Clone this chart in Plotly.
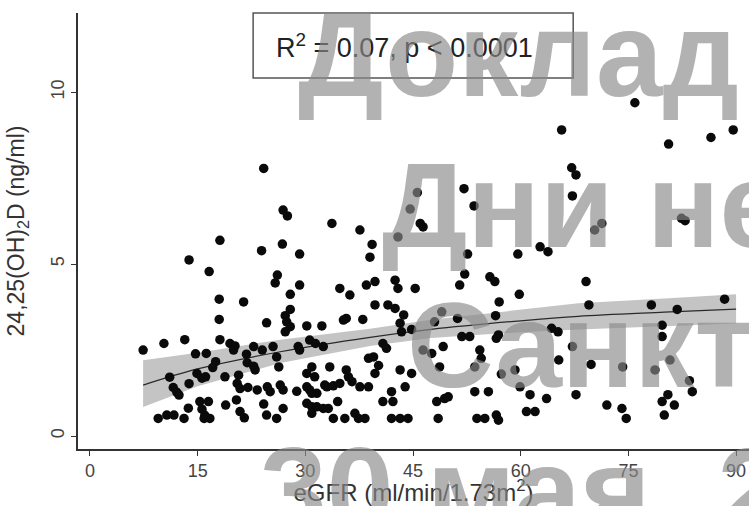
import plotly.graph_objects as go

# ---- data ----
egfr = [
    24.2, 26.9, 27.5, 33.7, 37.6, 18.1, 26.8, 23.9, 13.8, 29.2, 39.3, 39.0,
    45.6, 44.6, 46.0, 46.4, 42.9, 65.7, 67.1, 67.7, 67.2, 52.1, 53.5, 52.6,
    59.6, 62.7, 63.8, 75.9, 80.6, 86.5, 89.6, 71.3, 70.3, 82.4, 82.9, 16.6,
    26.1, 25.8, 29.2, 18.0, 21.4, 27.9, 27.9, 27.2, 27.4, 27.9, 27.2, 24.6,
    18.0, 30.2, 32.3, 34.8, 36.2, 38.5, 39.7, 39.7, 35.3, 35.7, 38.0, 38.8,
    39.5, 40.2, 39.7,
    7.4, 10.3, 13.2, 14.7, 16.2, 17.5, 17.1, 18.1, 19.5, 20.2, 20.0, 21.8,
    22.8, 24.0, 21.9, 22.8, 25.5, 26.0, 26.3, 23.0, 29.0, 29.2, 30.6, 31.4,
    32.5, 30.9, 33.4,
    11.1, 11.6, 12.1, 12.4, 13.8, 14.9, 15.6, 16.1, 18.8, 20.7, 20.5, 20.9,
    22.0, 23.3, 24.7, 25.1, 26.5, 26.9, 28.8, 30.2, 31.3, 30.2, 30.6, 30.9,
    31.6, 32.7, 33.0, 33.9, 34.8, 35.7, 36.0, 36.5, 37.6, 38.8,
    15.3, 16.5, 15.6, 16.0, 16.7, 13.7, 9.5, 10.7, 11.7, 13.1, 15.9, 18.9,
    20.4, 20.9, 21.5, 24.2, 24.6, 26.0, 26.9, 30.2, 30.9, 31.6, 32.5, 33.2,
    30.9, 34.5, 33.9, 35.5, 36.9, 37.4, 38.3,
    42.5, 42.9, 45.3, 41.5, 42.5, 43.7, 43.2, 43.4, 44.8, 40.8, 41.3, 43.2,
    44.8, 42.0, 43.9, 40.8, 42.2, 42.0, 43.2, 44.3, 46.4, 47.6, 49.0, 48.0,
    51.2,
    52.2, 51.5, 55.7, 56.4, 59.8, 57.0, 56.5, 51.8, 52.9, 56.6, 56.9, 64.3,
    65.2, 49.2, 54.3, 54.5, 67.2, 48.7, 53.6, 65.3, 59.2, 57.3, 59.9, 53.6,
    55.5, 61.3, 63.6, 67.7, 48.3, 49.4, 49.9, 48.5, 53.9, 55.0, 56.6, 56.9,
    60.8, 62.0,
    69.1, 69.5, 78.2, 81.8, 88.4, 79.7, 79.7, 69.8, 74.2, 78.7, 80.8, 83.5,
    83.9, 72.0, 74.1, 74.7, 80.5, 79.7, 81.4, 80.0,
]
vitd = [
    7.78, 6.57, 6.40, 6.18, 5.99, 5.69, 5.58, 5.39, 5.12, 5.29, 5.57, 5.20,
    7.08, 6.60, 6.18, 6.08, 5.79, 8.90, 7.80, 7.59, 6.98, 7.19, 6.69, 5.29,
    5.29, 5.50, 5.36, 9.69, 8.49, 8.68, 8.90, 6.18, 5.99, 6.33, 6.26, 4.78,
    4.68, 4.45, 4.39, 3.98, 3.90, 4.12, 3.68, 3.50, 3.32, 3.18, 3.03, 3.29,
    3.39, 3.20, 3.20, 4.29, 4.10, 4.39, 4.49, 3.81, 3.37, 3.42, 3.39, 2.26,
    2.30, 2.05, 1.82,
    2.50, 2.69, 2.80, 2.39, 2.40, 2.16, 1.99, 2.80, 2.69, 2.62, 2.50, 2.38,
    2.60, 2.50, 2.13, 2.03, 2.60, 2.30, 2.01, 1.92, 2.60, 2.50, 2.79, 2.69,
    2.60, 2.01, 2.01,
    1.71, 1.41, 1.27, 1.19, 1.52, 1.82, 1.68, 1.72, 1.72, 1.77, 1.53, 1.38,
    1.41, 1.34, 1.43, 1.29, 1.48, 1.34, 1.30, 1.82, 1.72, 1.43, 1.34, 1.24,
    1.24, 1.48, 1.43, 1.46, 1.53, 1.92, 1.72, 1.58, 1.43, 1.43,
    1.00, 1.00, 0.78, 0.60, 0.51, 0.81, 0.51, 0.61, 0.61, 0.51, 0.51, 0.90,
    1.05, 0.71, 0.53, 0.93, 0.61, 0.51, 0.80, 0.95, 0.85, 0.85, 0.80, 0.80,
    0.66, 1.00, 0.51, 0.51, 0.66, 0.51, 0.51,
    4.53, 4.29, 4.29, 3.81, 3.71, 3.52, 3.28, 3.03, 3.10, 2.69, 2.55, 1.92,
    1.82, 1.29, 1.43, 1.00, 1.00, 0.51, 0.51, 0.51, 2.50, 2.40, 3.61, 3.32,
    3.42,
    4.71, 4.39, 4.63, 4.49, 4.12, 3.90, 3.50, 2.89, 2.89, 2.84, 2.94, 3.13,
    3.03, 2.60, 2.50, 2.26, 2.60, 2.01, 2.01, 2.21, 1.92, 1.80, 1.43, 1.29,
    1.29, 1.20, 1.09, 1.20, 1.00, 1.09, 1.14, 0.51, 0.51, 0.51, 0.61, 0.46,
    0.71, 0.71,
    4.49, 3.81, 3.81, 3.68, 3.98, 3.22, 2.89, 2.08, 2.01, 1.92, 2.21, 1.61,
    1.29, 0.90, 0.80, 0.51, 1.20, 1.00, 0.90, 0.61,
]

fit_x = [7.4, 15, 26.5, 39, 47.5, 60, 68, 80, 90]
fit_y = [1.48, 1.95, 2.45, 2.87, 3.10, 3.35, 3.48, 3.60, 3.69]
ci_lo = [0.84, 1.45, 2.12, 2.62, 2.85, 3.02, 3.10, 3.20, 3.27]
ci_hi = [2.20, 2.42, 2.80, 3.12, 3.38, 3.66, 3.86, 4.00, 4.12]

x_ticks = [0, 15, 30, 45, 60, 75, 90]
y_ticks = [0, 5, 10]

stat_text = "R<sup>2</sup> = 0.07, p < 0.0001"
watermark = ["Доклад", "Дни не", "Санкт", "30 мая. 2"]

FONT = "Liberation Sans, Arial, sans-serif"

fig = go.Figure()

# confidence band
fig.add_trace(go.Scatter(x=fit_x + fit_x[::-1], y=ci_hi + ci_lo[::-1],
                         fill="toself", fillcolor="#c4c4c4",
                         line=dict(width=0), mode="lines",
                         hoverinfo="skip", showlegend=False))
# fitted line
fig.add_trace(go.Scatter(x=fit_x, y=fit_y, mode="lines",
                         line=dict(color="#2a2a2a", width=1.2, shape="spline"),
                         showlegend=False))
# points
fig.add_trace(go.Scatter(x=egfr, y=vitd, mode="markers",
                         marker=dict(color="#0a0a0a", size=9.5, line=dict(width=0)),
                         showlegend=False))

fig.update_layout(
    width=749, height=506,
    margin=dict(l=78, r=0, t=13, b=57, autoexpand=False),
    paper_bgcolor="white", plot_bgcolor="white",
    font=dict(family=FONT, color="#333"),
    xaxis=dict(range=[-1.67, 91.8], tickvals=x_ticks, showgrid=False,
               automargin=False,
               zeroline=False, showline=True, linecolor="#333", linewidth=1.5,
               ticks="outside", ticklen=5, tickcolor="#333",
               tickfont=dict(size=18, color="#444"),
               title=dict(text="eGFR (ml/min/1.73m<sup>2</sup>)",
                          font=dict(size=24, color="#333"), standoff=0)),
    yaxis=dict(range=[-0.378, 12.3], tickvals=y_ticks, showgrid=False,
               automargin=False,
               zeroline=False, showline=True, linecolor="#333", linewidth=1.5,
               ticks="outside", ticklen=5, tickcolor="#333", tickangle=-90,
               tickfont=dict(size=18, color="#444"),
               title=dict(text="24,25(OH)<sub>2</sub>D (ng/ml)",
                          font=dict(size=23, color="#333"), standoff=17)),
)

# stats box
fig.add_shape(type="rect", xref="paper", yref="paper",
              x0=0.261, x1=0.738, y0=0.851, y1=1.0,
              line=dict(color="#555", width=1.5), fillcolor="rgba(0,0,0,0)")
fig.add_annotation(xref="paper", yref="paper", x=0.487, y=0.925,
                   text=stat_text, showarrow=False,
                   font=dict(size=27, color="#222", family=FONT),
                   xanchor="center", yanchor="middle")

# watermark overlay
wm_pos = [(0.325, 0.906), (0.450, 0.560), (0.487, 0.239), (0.268, -0.094)]
for txt, (px, py) in zip(watermark, wm_pos):
    fig.add_annotation(xref="paper", yref="paper", x=px, y=py, text=txt,
                       showarrow=False, xanchor="left", yanchor="middle",
                       font=dict(size=120, color="#8a8a8a",
                                 family="Liberation Sans, Arial, sans-serif",
                                 weight="bold"),
                       opacity=0.65)

fig.write_html("out.html",
               config={"displayModeBar": False},
               post_script="document.body.style.margin='0';"
                           "document.body.style.overflow='hidden';")
